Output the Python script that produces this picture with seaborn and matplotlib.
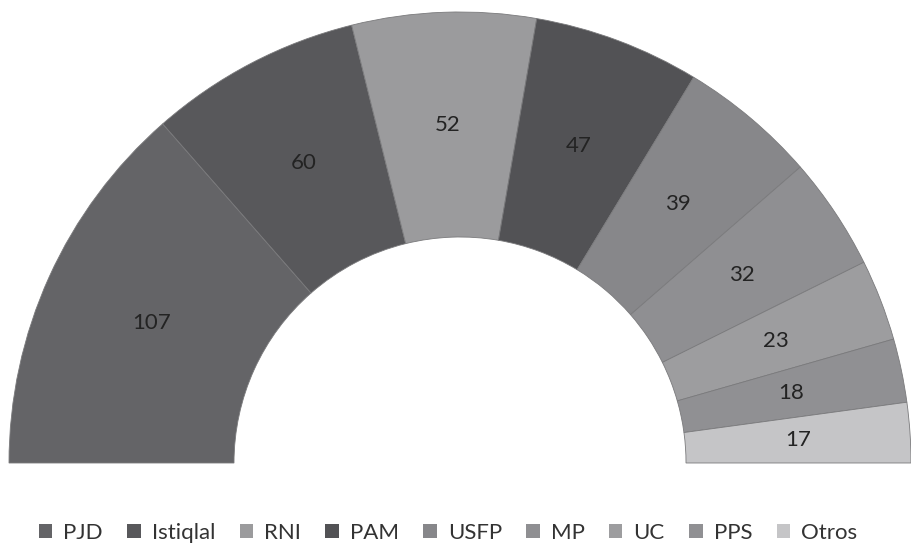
import matplotlib
matplotlib.use("Agg")
import matplotlib.pyplot as plt
from matplotlib.patches import Patch
import seaborn as sns

# Seats won per party
parties = ["PJD", "Istiqlal", "RNI", "PAM", "USFP", "MP", "UC", "PPS", "Otros"]
seats = [107, 60, 52, 47, 39, 32, 23, 18, 17]
colors = ["#646467", "#58585b", "#9b9b9d", "#525255", "#87878a",
          "#8f8f92", "#9d9d9f", "#909093", "#c5c5c7"]

sns.set_theme(style="white")
plt.rcParams["font.family"] = ["Lato", "DejaVu Sans"]

total = sum(seats)
fig = plt.figure(figsize=(9.11, 5.46), dpi=100)
ax = fig.add_axes([0, 0, 1, 1])

outer = 451
ring = 225
cx, cy = 460, 546 - 463

wedges, texts, autotexts = ax.pie(
    [s / (2 * total) for s in seats],
    normalize=False,
    colors=colors,
    startangle=180,
    counterclock=False,
    radius=outer,
    center=(cx, cy),
    wedgeprops=dict(width=ring, linewidth=0.6, edgecolor="#7a7a7c"),
    autopct=lambda p: f"{round(p * 2 * total / 100)}",
    pctdistance=1 - ring / (2 * outer),
    textprops=dict(fontsize=16, color="#232323"),
)

ax.set_xlim(0, 911)
ax.set_ylim(0, 546)
ax.set_aspect("equal")
ax.axis("off")

handles = [Patch(facecolor=c, edgecolor="none") for c in colors]
fig.legend(handles, parties, loc="center", bbox_to_anchor=(448 / 911, 13 / 546),
           ncol=len(parties), frameon=False, fontsize=16,
           handlelength=0.6, handleheight=0.6, handletextpad=0.5,
           columnspacing=1.1, labelcolor="#333333")

fig.savefig("out.png", dpi=100)
